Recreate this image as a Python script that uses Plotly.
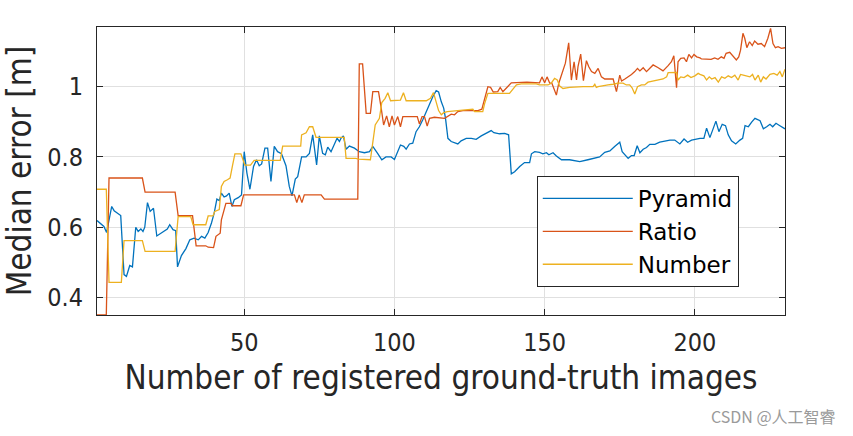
import plotly.graph_objects as go

# ---------------- data ----------------
pyr_x = [1, 2.2, 3.3, 4.2, 5.9, 6.7, 8.9, 10, 10.8, 11.9, 12.8, 13.9, 14.7, 15.6, 16.3, 16.9, 17.8, 18.7, 19.8,
         20.9, 22.8, 24.4, 25.2, 26.3, 27.2, 27.8, 29.1, 30.6, 31.9, 33.3, 34.7, 35.8, 36.9, 38, 39.1, 40, 40.9,
         41.7, 42.4, 43.3, 44.1, 45, 45.9, 46.7, 48, 49.1, 50, 50.9, 51.9, 53.1, 54.1, 55, 55.8, 56.9, 57.8, 58.9,
         60, 61.1, 62.4, 63.9, 65, 65.9, 67, 67.8, 69.1, 70.6, 71.7, 72.8, 73.3, 74.1, 75, 76.1, 77, 77.8, 78.9,
         80, 80.9, 81.7, 82.2, 83, 83.9, 85, 86.7, 88.3, 90, 91.7, 92.8, 94.4, 95.8, 97.2, 98.9, 100, 100.9, 102,
         103.1, 103.9, 105, 106.1, 107.2, 108.3, 109.4, 110.6, 111.7, 112.8, 113.9, 114.7, 115.6, 116.4, 117,
         117.8, 118.9, 120, 121.1, 122.2, 123.9, 125.6, 127.2, 128.9, 130.6, 132.2, 133.1, 135, 136.7, 138,
         138.9, 140, 141.7, 143.3, 145, 145.6, 146.7, 148.3, 149.4, 150.6, 151.4, 152.8, 153.9, 155.6, 158.3,
         161.7, 164.4, 166.7, 168.3, 170, 171.7, 173.3, 175, 175.8, 176.9, 177.8, 178.9, 179.8, 180.8, 181.7,
         182.8, 183.9, 185, 186.7, 188.3, 190, 191.7, 193.3, 195, 196.4, 197.6, 198.9, 200.6, 201.7, 203, 203.9,
         205, 205.9, 207, 208, 209.1, 210.2, 211.1, 212.2, 213.6, 215, 215.9, 216.7, 217.8, 218.9, 220, 221.7,
         222.8, 223.9, 225, 225.9, 227, 228.3, 230]
pyr_y = [0.619, 0.61, 0.602, 0.585, 0.659, 0.647, 0.633, 0.465, 0.46, 0.491, 0.487, 0.6, 0.588, 0.595, 0.588,
         0.6, 0.67, 0.645, 0.654, 0.575, 0.585, 0.595, 0.607, 0.593, 0.59, 0.487, 0.519, 0.539, 0.564, 0.569,
         0.564, 0.574, 0.569, 0.585, 0.612, 0.64, 0.68, 0.676, 0.697, 0.686, 0.689, 0.697, 0.659, 0.678, 0.684,
         0.692, 0.815, 0.754, 0.708, 0.773, 0.792, 0.775, 0.78, 0.825, 0.825, 0.73, 0.83, 0.815, 0.809, 0.775,
         0.716, 0.689, 0.737, 0.744, 0.8, 0.8, 0.81, 0.863, 0.83, 0.777, 0.86, 0.81, 0.806, 0.828, 0.815, 0.834,
         0.853, 0.844, 0.853, 0.86, 0.822, 0.831, 0.825, 0.815, 0.812, 0.815, 0.83, 0.81, 0.792, 0.8, 0.8, 0.793,
         0.81, 0.834, 0.83, 0.822, 0.837, 0.839, 0.872, 0.886, 0.905, 0.929, 0.953, 0.972, 0.989, 0.985, 0.957,
         0.939, 0.91, 0.853, 0.844, 0.841, 0.837, 0.846, 0.853, 0.853, 0.85, 0.86, 0.867, 0.875, 0.869, 0.866,
         0.867, 0.863, 0.752, 0.758, 0.773, 0.784, 0.784, 0.809, 0.815, 0.813, 0.809, 0.812, 0.806, 0.812, 0.803,
         0.792, 0.792, 0.787, 0.792, 0.796, 0.8, 0.813, 0.817, 0.83, 0.842, 0.815, 0.803, 0.796, 0.804, 0.804,
         0.832, 0.812, 0.822, 0.827, 0.836, 0.836, 0.842, 0.846, 0.848, 0.848, 0.837, 0.851, 0.842, 0.848, 0.851,
         0.853, 0.853, 0.882, 0.855, 0.874, 0.902, 0.872, 0.893, 0.889, 0.863, 0.846, 0.837, 0.848, 0.853, 0.889,
         0.886, 0.899, 0.91, 0.903, 0.88, 0.886, 0.893, 0.886, 0.896, 0.889, 0.88]

rat_x = [1, 4.1, 5, 16.1, 17, 27, 28, 32.8, 34, 37.2, 38, 39.8, 40.6, 42, 42.4, 43.9, 45.6, 46.1, 48.9, 49.8,
         66.7, 67.5, 68.3, 69.2, 70, 75.6, 76.7, 87.8, 88.3, 89.4, 90.6, 92, 92.8, 94.7, 95.6, 96.4, 97.4, 98.3,
         99.2, 100, 101.1, 102, 102.8, 107.6, 108.3, 109.2, 110, 110.9, 111.7, 113.3, 116.7, 117.8, 118.9, 120,
         121.1, 122.8, 127.8, 129.1, 130, 131.1, 132, 132.9, 134.4, 135.2, 136.1, 137.6, 138.9, 144.1, 148.3,
         149.1, 150, 150.8, 151.7, 152.4, 153.1, 153.9, 154.7, 155.6, 156.9, 158, 158.9, 159.8, 160.6, 161.1,
         162, 162.9, 163.9, 164.7, 165.6, 166.7, 167.8, 168.9, 170, 172.8, 173.9, 175, 175.6, 176.7, 177.8,
         178.9, 180, 180.9, 181.7, 182.8, 183.9, 185, 186.1, 187.8, 189.4, 191.1, 192.2, 193, 193.9, 194.4,
         195.3, 196.4, 197.2, 198, 198.9, 199.7, 200.6, 201.7, 202.2, 205.4, 206.6, 207.7, 208.8, 209.7, 210.4,
         211.6, 212.7, 213.8, 214.6, 215.2, 216, 216.6, 217.3, 218.2, 219.1, 219.9, 221, 222.1, 223.2, 224.3,
         225.2, 226, 226.8, 227.7, 228.8, 230]
rat_y = [0.35, 0.35, 0.74, 0.74, 0.7, 0.7, 0.633, 0.633, 0.547, 0.547, 0.543, 0.542, 0.574, 0.583, 0.621,
         0.668, 0.668, 0.661, 0.661, 0.692, 0.692, 0.67, 0.692, 0.67, 0.692, 0.692, 0.68, 0.68, 1.065, 1.065,
         0.924, 0.924, 0.986, 0.986, 0.939, 0.891, 0.917, 0.886, 0.917, 0.891, 0.915, 0.886, 0.915, 0.915, 0.894,
         0.915, 0.915, 0.888, 0.91, 0.913, 0.91, 0.917, 0.922, 0.92, 0.929, 0.932, 0.932, 0.936, 0.962, 1.0,
         0.998, 0.985, 0.986, 0.998, 0.986, 0.998, 1.011, 1.013, 1.011, 1.028, 1.011, 1.028, 1.01, 1.01, 0.995,
         0.976, 1.01, 1.033, 1.067, 1.125, 1.019, 1.071, 1.019, 1.057, 1.093, 1.017, 1.074, 1.057, 1.043, 1.038,
         1.052, 1.028, 1.022, 1.022, 0.986, 1.033, 1.016, 1.022, 1.028, 1.035, 1.043, 1.052, 1.045, 1.054, 1.043,
         1.052, 1.062, 1.054, 1.045, 1.06, 1.071, 1.088, 0.997, 1.071, 1.081, 1.082, 1.071, 1.092, 1.082, 1.092,
         1.085, 1.082, 1.079, 1.078, 1.082, 1.078, 1.085, 1.081, 1.095, 1.098, 1.088, 1.076, 1.085, 1.104, 1.152,
         1.138, 1.111, 1.128, 1.117, 1.13, 1.121, 1.123, 1.114, 1.138, 1.166, 1.123, 1.111, 1.114, 1.109, 1.111]

num_x = [1, 4.1, 5, 9.1, 10, 16.1, 17, 27, 28, 32.2, 33, 37.2, 38, 39.6, 40.2, 41.7, 42.4, 43.3, 44.4, 45.3,
         46.1, 46.9, 48.9, 50.2, 52.1, 53.3, 62, 62.8, 68.8, 69.1, 70.6, 71.7, 72.8, 73.9, 83.3, 83.9, 87.2, 88,
         92, 92.8, 93.6, 95, 95.8, 96.9, 97.8, 98.7, 102, 103, 103.9, 110.6, 112, 113, 113.9, 114.7, 115.6,
         116.4, 117.6, 121.1, 126.1, 126.7, 129.4, 130, 131.1, 138.3, 139.4, 140.6, 142.2, 147.2, 148.3, 151.1,
         152.2, 153.3, 154.2, 155, 156.1, 158.3, 162.8, 166.1, 166.7, 167.2, 167.8, 169.4, 171.1, 172.8, 174.4,
         176.1, 177.2, 178.3, 179.1, 180, 180.9, 182.2, 183.3, 184.4, 186.1, 187.8, 189.4, 190.6, 191.1, 193.9,
         194.4, 195.3, 196.4, 197.6, 198.7, 200, 201.1, 201.7, 203, 203.9, 204.8, 205.6, 206.7, 207.8, 208.9,
         210, 211.1, 212.2, 213.3, 214.4, 215.2, 216.1, 218.3, 219.2, 220, 221.1, 221.9, 222.8, 223.7, 225,
         226.3, 227.4, 228.3, 229.1, 230]
num_y = [0.708, 0.708, 0.443, 0.443, 0.562, 0.562, 0.531, 0.531, 0.63, 0.63, 0.607, 0.607, 0.632, 0.632, 0.645,
         0.65, 0.716, 0.73, 0.735, 0.74, 0.775, 0.809, 0.809, 0.777, 0.777, 0.79, 0.79, 0.831, 0.831, 0.863,
         0.869, 0.886, 0.886, 0.856, 0.856, 0.796, 0.796, 0.794, 0.792, 0.848, 0.891, 0.91, 0.955, 0.967, 0.983,
         0.96, 0.962, 0.983, 0.96, 0.96, 0.967, 0.983, 0.957, 0.932, 0.92, 0.926, 0.929, 0.932, 0.936, 0.929,
         0.929, 0.951, 0.981, 0.981, 0.991, 1.005, 1.008, 1.008, 1.005, 1.005, 1.01, 1.024, 1.019, 1.002, 0.995,
         0.998, 1.0, 1.0, 1.007, 0.998, 1.0, 1.003, 1.005, 1.007, 1.01, 1.01, 1.005, 1.005, 0.997, 0.979, 1.0,
         1.005, 1.005, 1.013, 1.016, 1.019, 1.022, 1.028, 1.04, 1.041, 1.019, 1.028, 1.026, 1.033, 1.026, 1.031,
         1.038, 1.035, 1.031, 1.019, 1.028, 1.022, 1.026, 1.013, 1.028, 1.024, 1.031, 1.026, 1.033, 1.019, 1.035,
         1.033, 1.028, 1.035, 1.019, 1.033, 1.013, 1.028, 1.022, 1.035, 1.038, 1.033, 1.043, 1.028, 1.05]

series_names = ["Pyramid", "Ratio", "Number"]
x_tick_vals = [50, 100, 150, 200]
y_tick_vals = [0.4, 0.6, 0.8, 1.0]
y_tick_text = ["0.4", "0.6", "0.8", "1"]

# ---------------- styling ----------------
colors = ["#0072BD", "#D95319", "#EDB120"]
FONT = "Liberation Sans Narrow, Arial Narrow, DejaVu Sans Condensed, Liberation Sans, Arial, sans-serif"
LEG_FONT = "DejaVu Sans, Liberation Sans, Arial, sans-serif"
AX = "#262626"

fig = go.Figure()
for name, xs, ys, c in zip(series_names, [pyr_x, rat_x, num_x], [pyr_y, rat_y, num_y], colors):
    fig.add_trace(go.Scatter(x=xs, y=ys, mode="lines", name=name,
                             line=dict(color=c, width=1.3)))

axis_common = dict(
    showline=True, linecolor=AX, linewidth=1, mirror="ticks",
    ticks="inside", ticklen=6, tickcolor=AX, tickwidth=1,
    showgrid=True, gridcolor="#e0e0e0", gridwidth=1, zeroline=False,
    tickfont=dict(family=FONT, size=25, color=AX),
)

fig.update_layout(
    width=853, height=436,
    margin=dict(l=97, r=68, t=27, b=121, pad=0),
    paper_bgcolor="white", plot_bgcolor="white",
    font=dict(family=FONT, color=AX),
    xaxis=dict(range=[1, 230], tickvals=x_tick_vals, ticklabelstandoff=5,
               title=dict(text="Number of registered ground-truth images",
                          font=dict(family=FONT, size=33, color=AX), standoff=9),
               **axis_common),
    yaxis=dict(range=[0.35, 1.17], tickvals=y_tick_vals, ticktext=y_tick_text, ticklabelstandoff=8,
               title=dict(text="Median error [m]",
                          font=dict(family=FONT, size=33, color=AX), standoff=8),
               **axis_common),
    legend=dict(x=0.786, y=0.29, xanchor="center", yanchor="middle",
                bgcolor="white", bordercolor=AX, borderwidth=1,
                font=dict(family=LEG_FONT, size=23, color="black"),
                itemwidth=90, tracegroupgap=0),
    showlegend=True,
    annotations=[dict(text="CSDN @人工智睿", xref="paper", yref="paper",
                      x=1.077, y=-0.351, xanchor="right", yanchor="middle", showarrow=False,
                      font=dict(family="Noto Sans CJK SC, Liberation Sans", size=16, color="#9a9a9a"))],
)

fig.write_html("out.html")
